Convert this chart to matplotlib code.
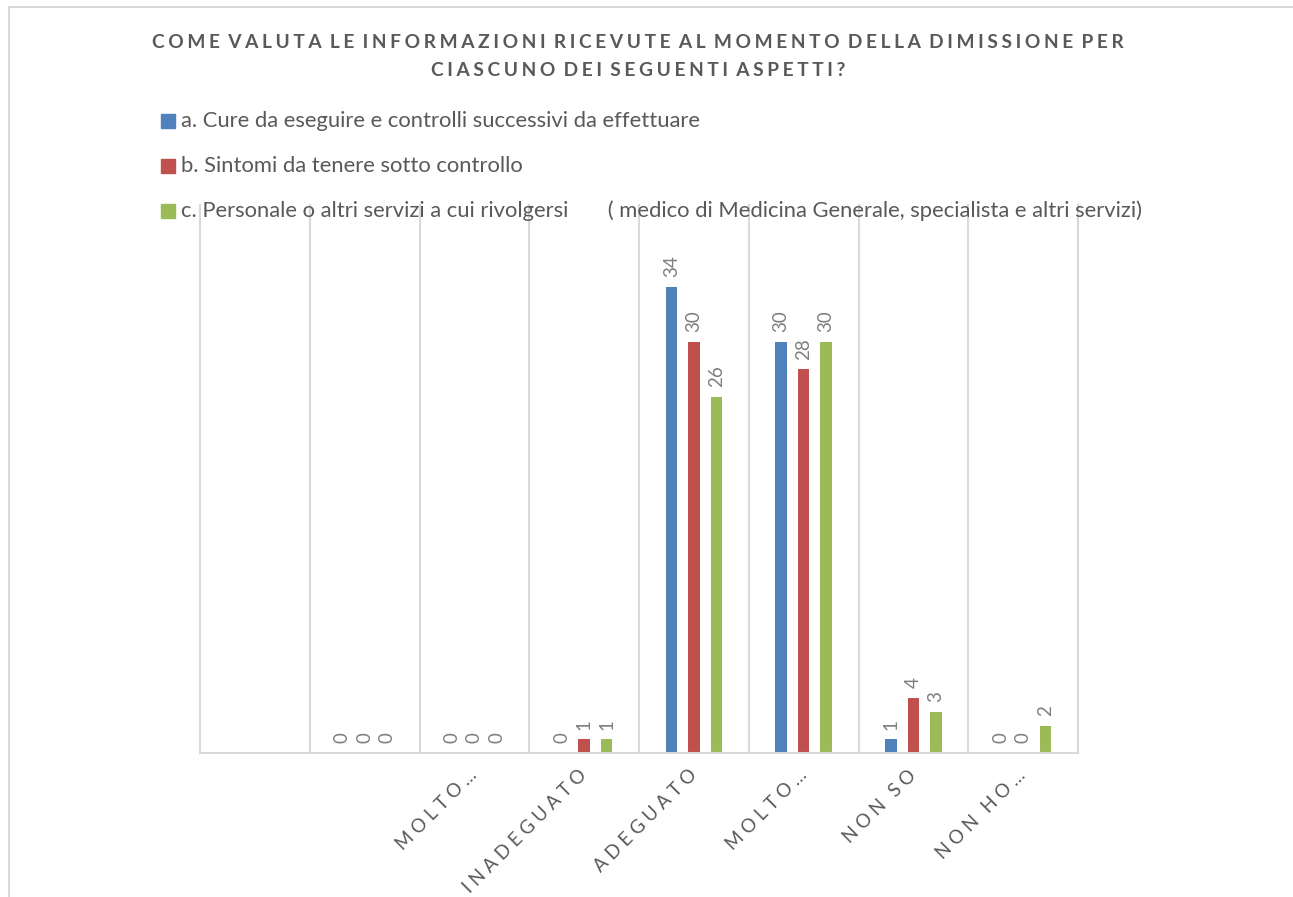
import numpy as np
import matplotlib
matplotlib.use("Agg")
import matplotlib.pyplot as plt
from matplotlib.patches import Rectangle

# --- data ---
categories = ["", "", "MOLTO…", "INADEGUATO", "ADEGUATO", "MOLTO…", "NON SO", "NON HO…"]
series_names = [
    "a. Cure da eseguire e controlli successivi da effettuare",
    "b. Sintomi da tenere sotto controllo",
    "c. Personale o altri servizi a cui rivolgersi       ( medico di Medicina Generale, specialista e altri servizi)",
]
vals_a = [np.nan, 0, 0, 0, 34, 30, 1, 0]
vals_b = [np.nan, 0, 0, 1, 30, 28, 4, 0]
vals_c = [np.nan, 0, 0, 1, 26, 30, 3, 2]
colors = ["#4F81BD", "#C0504D", "#9BBB59"]
title_lines = [
    "COME VALUTA LE INFORMAZIONI RICEVUTE AL MOMENTO DELLA DIMISSIONE PER",
    "CIASCUNO DEI SEGUENTI ASPETTI?",
]

plt.rcParams["font.family"] = ["Lato", "DejaVu Sans"]
TXT = "#595959"
GRID = "#D9D9D9"
W, H = 1293, 897


def spaced(text, gap="\u2009", word=" \u2009"):
    # fake letter spacing, Excel-style
    return word.join(gap.join(w) for w in text.split(" "))


fig = plt.figure(figsize=(W / 100, H / 100), dpi=100)

# outer chart frame (runs off the right and bottom edges)
fig.add_artist(Rectangle((9 / W, -0.1), 2, 1 - 7 / H + 0.1, transform=fig.transFigure,
                         fill=False, ec=GRID, lw=1.5))

ax = fig.add_axes([200 / W, 1 - 753 / H, 878 / W, 548 / H])
x = np.arange(len(categories))
width = 0.105
step = 0.205

for k, (vals, name) in enumerate(zip([vals_a, vals_b, vals_c], series_names)):
    pos = x + (k - 1) * step
    ax.bar(pos, np.nan_to_num(vals), width, color=colors[k], label=name, zorder=2)
    for xi, v in zip(pos, vals):
        if np.isnan(v):
            continue
        ax.annotate(f"{v:g}", (xi, v), xytext=(0, 7), textcoords="offset points",
                    rotation=90, ha="center", va="bottom", fontsize=13.5, color="#7F7F7F")

ax.set_xlim(-0.5, len(categories) - 0.5)
ax.set_ylim(0, 40)
for b in np.arange(-0.5, len(categories), 1):
    ax.axvline(b, color=GRID, lw=1.5, zorder=0, clip_on=False)

for s in ["top", "right", "left"]:
    ax.spines[s].set_visible(False)
ax.spines["bottom"].set_color(GRID)
ax.spines["bottom"].set_linewidth(1.5)
ax.set_yticks([])
ax.set_xticks(x)
ax.set_xticklabels([spaced(c, "\u2009\u2009", "  \u2009") for c in categories], rotation=45,
                   ha="right", va="center", rotation_mode="anchor", fontsize=13.5, color=TXT)
ax.tick_params(axis="x", length=0, pad=14)

# title
for i, line in enumerate(title_lines):
    fig.text(638 / W, 1 - (43 + 27 * i) / H, spaced(line, "\u2009\u200a", " \u2009\u200a"),
             ha="center", va="center", fontsize=13.8, fontweight="bold", color=TXT)

# legend, drawn by hand to match the row spacing
for k, name in enumerate(series_names):
    yc = 121 + 45 * k
    fig.add_artist(Rectangle((161 / W, 1 - (yc + 7) / H), 14 / W, 14 / H,
                             transform=fig.transFigure, color=colors[k]))
    fig.text(181 / W, 1 - yc / H, name, ha="left", va="center", fontsize=15.8, color=TXT)

fig.savefig("out.png", dpi=100)
